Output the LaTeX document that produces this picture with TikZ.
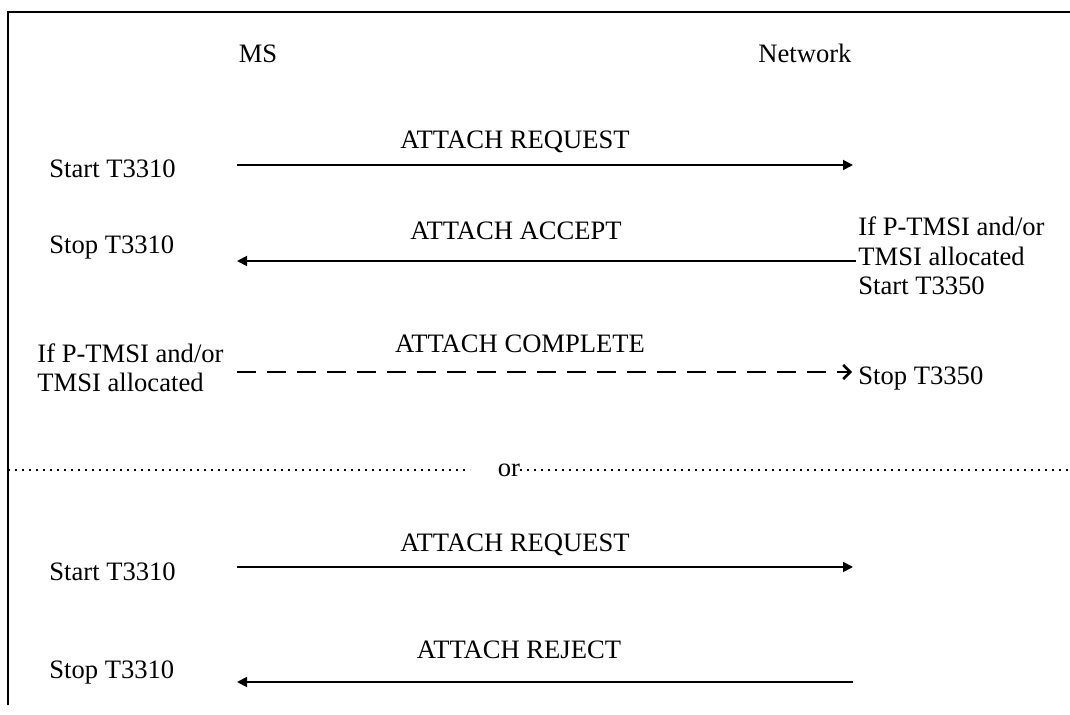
\documentclass[tikz,border=0pt]{standalone}
\usepackage{fontspec}
\setmainfont{Liberation Serif}
\usetikzlibrary{arrows.meta}

\begin{document}
\begin{tikzpicture}[x=0.5pt, y=-0.5pt,
        every node/.style={font=\fontsize{13.3}{14.75}\selectfont, inner sep=0pt},
        lbl/.style={anchor=base},
        note/.style={anchor=base west, align=left},
        msg/.style={draw, line width=0.9pt, -{Triangle[length=5pt, width=5pt]}},
        optmsg/.style={draw, line width=1.3pt, dash pattern=on 9.5pt off 5.5pt, -{Straight Barb[length=3.5pt, width=7pt]}},
        sep/.style={draw, line width=0.6pt, dash pattern=on 0.9pt off 2.6pt}]
    \useasboundingbox (0,0) rectangle (1070,715);
    % frame
    \draw[line width=1pt] (8,705) -- (8,12) -- (1070,12);
    % entities
    \node[lbl] (ms) at (258,63) {MS};
    \node[lbl] (net) at (805,63) {Network};
    % message end points
    \coordinate (ms1) at (237,165); \coordinate (nw1) at (853,165);
    \coordinate (ms2) at (237,261); \coordinate (nw2) at (856,261);
    \coordinate (ms3) at (237,372); \coordinate (nw3) at (852,372);
    \coordinate (ms4) at (237,567); \coordinate (nw4) at (853,567);
    \coordinate (ms5) at (237,682); \coordinate (nw5) at (853,682);
    \coordinate (sepL) at (8,470); \coordinate (sepM) at (470,470); \coordinate (sepR) at (1070,470);
    % texts (base of a multi-line note is its last line)
    \node[lbl] (req1) at (515,149) {ATTACH REQUEST};
    \node[note] (start1) at (49,178) {Start T3310};
    \node[lbl] (acc) at (516,240) {ATTACH ACCEPT};
    \node[note] (stop1) at (49,254) {Stop T3310};
    \node[note] (alloc1) at (858,295) {If P-TMSI and/or\\TMSI allocated\\Start T3350};
    \node[lbl] (cmp) at (520,353) {ATTACH COMPLETE};
    \node[note] (alloc2) at (37,392) {If P-TMSI and/or\\TMSI allocated};
    \node[note] (stop3350) at (858,385) {Stop T3350};
    \node[lbl] (or) at (509,477) {or};
    \node[lbl] (req2) at (515,552) {ATTACH REQUEST};
    \node[note] (start2) at (49,580) {Start T3310};
    \node[lbl] (rej) at (519,658) {ATTACH REJECT};
    \node[note] (stop2) at (49,678) {Stop T3310};
    % messages
    \draw[msg] (ms1) -- (nw1);
    \draw[msg] (nw2) -- (ms2);
    \draw[optmsg] (ms3) -- (nw3);
    \draw[sep] (sepL) -- (sepM);
    \draw[sep] (or.east |- sepL) -- (sepR);
    \draw[msg] (ms4) -- (nw4);
    \draw[msg] (nw5) -- (ms5);
\end{tikzpicture}
\end{document}
